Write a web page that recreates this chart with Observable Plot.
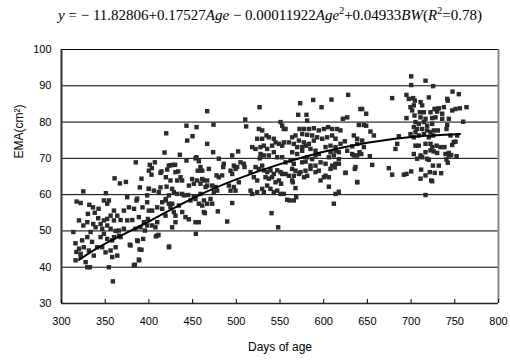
<!DOCTYPE html>
<html><head><meta charset="utf-8">
<script src="https://cdn.jsdelivr.net/npm/d3@7"></script>
<script src="https://cdn.jsdelivr.net/npm/@observablehq/plot@0.6"></script>
<style>
body{margin:0;background:#fff;width:510px;height:363px;overflow:hidden}
#title{height:30px;line-height:30px;font-family:"Liberation Serif","Times New Roman",serif;font-size:15px;text-align:center;padding-left:30px;box-sizing:border-box;width:510px;white-space:nowrap;color:#000}
#title sup{font-size:10px;line-height:0;vertical-align:6px}
</style></head><body>
<div id="title"><i>y</i> = − 11.82806+0.17527<i>Age</i> − 0.00011922<i>Age</i><sup>2</sup>+0.04933<i>BW</i>(<i>R</i><sup>2</sup>=0.78)</div>
<div id="chart"></div>
<script>
const xTicks = [300,350,400,450,500,550,600,650,700,750,800];
const yTicks = [30,40,50,60,70,80,90,100];
const gridValues = [40,50,60,70,80,90,100];
const xLabel = "Days of age";
const yLabel = "EMA(cm²)";

// [age, EMA], by age band
const band300 = [[385,68.9],[360.7,64.5],[366.8,63.1],[373.7,63.5],[324.9,60.9],[350.8,60.4],[375.2,59.3],[317.3,58.1],[321.9,57.7],[331.8,57.2],[336,56.5],[342.4,56.1],[348.5,58.4],[354.2,58.4],[352.3,57.5],[330.2,54.7],[360,55.6],[363.8,54.2],[356.2,54.2],[371.4,55.6],[377.1,56.5],[383,56.1],[348.5,52.9],[352.3,53.3],[360,52.9],[367.6,53],[375.2,52.9],[381,53],[320,52.9],[325,51.5],[329.5,52.4],[336.3,51.9],[339,51],[344.7,51.9],[346.6,50.6],[352.3,51.5],[356.2,50.6],[361.9,50],[365.7,50.1],[371.4,50.6],[313.5,49.7],[333.3,49.7],[348.5,49.2],[344.7,48.3],[352.3,47.8],[360,48.3],[365.7,48.7],[316,46.6],[323.6,47.4],[329.5,48.3],[325.5,45.5],[320,45.1],[321.9,43.7],[331.3,44.6],[346.6,45.5],[350.4,44.1],[356.2,44.6],[361.9,45.5],[363.8,43.2],[379,46],[358,42.8],[316.1,41.9],[321.9,42.8],[327.6,41.4],[329.5,40],[332.4,40],[354.2,40],[382.8,40.5],[358.8,36.1],[317,44.2],[337,43.2],[340.8,45.5],[358,47.4],[367.5,48.3],[335,47],[342,53.5],[338,55]];
const band400 = [[466.7,83],[443,79],[454.5,78.6],[419.8,76.9],[443.8,74.9],[449.9,76.1],[466.7,74],[417.9,71.6],[435.4,71],[401,68.2],[406.8,68.9],[403.4,67.3],[400,66.6],[391.5,64.4],[414.4,66.4],[420.9,66.9],[424.7,68.1],[430,68.2],[419.4,64.8],[424.7,63.9],[430.4,66.2],[432.4,63.9],[436.2,64.8],[443,69.4],[453.3,70],[457.1,69.2],[459,67.6],[455.9,66.6],[461,66.6],[468.6,67.1],[449.5,64.3],[455.2,63.9],[461,64.3],[466.7,63.9],[459,63],[466.7,62.5],[389.6,62],[400,61.6],[405.7,61.1],[413.3,62],[420.2,62.2],[426.6,61.6],[432.4,60.2],[438.1,60.2],[445,59.9],[447.6,58.4],[453.3,58.8],[459,60.2],[462.9,58.4],[466.7,57.5],[464,54.9],[385.8,58.4],[392.7,56.5],[398,57.9],[403.7,55.6],[409.5,56.5],[415.2,57.9],[419.4,58.8],[426.6,57.5],[430.4,54.2],[438.1,55.2],[445.7,53.2],[388.5,53.8],[394.2,52.4],[398.8,53.3],[390.4,51],[395.4,50.1],[403.7,51.5],[409.5,52.4],[393.4,47.8],[408,48.5],[411,48.9],[423.2,45.7],[378.2,46.2],[387.3,47.2],[389.3,44.9],[383.9,40.7],[388.9,41.9],[453.7,49.2],[422.8,68],[427.4,68.2],[413.3,66],[403,65.5],[433.5,66.4],[438,63.9],[445.7,62.5],[451.4,63],[399.9,61.6],[411.4,60.7],[422.8,59.8],[428.5,60.7],[440,59.8],[451.4,59.3],[386.6,58.9],[398,59.8],[419,58.4],[422.8,57.5],[415.2,56.1],[424.7,56.6],[434.3,57],[457.1,57.5],[461,57],[399.9,55.6],[419,54.2],[428.5,55.2],[441.9,53.8],[453.3,52.4],[457.1,52.4],[462.9,55.2],[398,51.5],[407.5,51],[426.6,51],[430.4,52.4],[384.7,50.6],[409.5,48.7],[386.6,47.4],[422.8,45.5],[391.5,44.8],[388.5,42.1],[462.9,63.9],[464.8,62.1],[454.5,70.3]];
const band500 = [[526.6,84.1],[473.9,79.3],[510.2,80.7],[511.3,78.8],[550.6,80],[552.5,79],[554.4,78.1],[525.8,78.1],[529.6,77.7],[534.6,76.3],[537.2,75.8],[523.9,75.4],[529.6,75.4],[542.9,75.4],[544.9,74.4],[518.2,73.1],[522,72.6],[527.7,73.1],[531.5,73.5],[535.3,72.6],[541,73.5],[548.7,74],[552.5,73.5],[554.4,74.4],[527.7,71.2],[531.5,70.8],[537.2,70.8],[542.9,71.7],[546.8,70.3],[552.5,70.3],[526.9,70],[473.5,71.7],[480,69.9],[495.3,70.8],[502.1,71.9],[485.7,68.5],[485,67.6],[497.2,68],[501,67.6],[504.8,68.9],[508.6,68.5],[509.4,67.6],[493.4,66.6],[495.3,65.7],[499.1,67.1],[477.4,65.3],[480,64.8],[483.8,65.3],[516.3,66.2],[522,67.6],[525.8,67.1],[529.6,68],[531.5,66.7],[535.3,66.2],[539.1,66.7],[542.9,65.7],[546.8,66.7],[550.6,66.2],[552.5,65.7],[520.1,64.8],[523.9,63.9],[533.4,64.8],[537.2,64.4],[541,64.8],[544.9,63.4],[548.7,63.9],[551.3,63],[502.9,63.4],[497.2,62.1],[493.4,61.1],[499.1,61.1],[491.5,62.5],[472.4,62.5],[476.2,62.1],[478.1,61.1],[474.3,60.7],[516.3,61.1],[518.2,60.2],[523.9,60.7],[529.6,61.6],[531.5,60.7],[535.3,62.5],[539.1,61.6],[542.9,60.7],[546.8,61.1],[550.6,60.2],[554.4,60.2],[470.5,58.8],[472.4,57.5],[478.9,55.4],[495.3,57.7],[540.3,54.9],[489.6,52.6],[547.9,51]];
const band600 = [[628,87.5],[588,86.1],[608.9,86.2],[573.1,85.2],[597.5,84.1],[642,83.6],[570.8,82],[580.3,82],[581.1,80.4],[626.9,81.3],[621.9,80.9],[640.2,79.2],[556.3,78.1],[572.3,78.1],[577.3,78.1],[583,78.1],[588.7,78.3],[594.4,77.7],[600.2,78.1],[605.1,78.6],[609.7,78.1],[615.4,78.1],[619.2,77.7],[563.9,75.8],[567.7,76.3],[575.4,76.7],[581.1,76.5],[586.8,76.3],[592.5,75.8],[598.3,75.4],[604,75.8],[609.7,76.3],[613.5,75.4],[634.5,76.3],[638.3,75.4],[624.2,74.7],[560.1,74.4],[565.8,74],[571.6,74.9],[577.3,74.4],[583,74],[588.7,74.9],[569.6,73.1],[575.4,73.1],[580,73.5],[584.9,72.6],[602.1,73.1],[607.8,73.5],[613.5,73.1],[619.2,74],[632.6,73.3],[638.3,74],[563.9,71.7],[569.6,71.2],[575.4,72.1],[590.6,72.1],[594.4,71.2],[607.8,71.7],[613.5,72.1],[617.3,71.7],[626.9,72.1],[632.6,71.2],[638.3,70.8],[641,71.7],[581.1,70.3],[586.8,69.8],[590.6,70.8],[605.9,70.3],[611.6,70.8],[617.3,69.8],[556.3,68.9],[562,69.4],[565.8,68.5],[575.4,68.9],[579.2,69.1],[584.9,68],[590.6,68],[596.4,68.9],[602.1,68.5],[609.7,68],[613.5,68.5],[617.3,68.5],[636.4,67.6],[634.5,70.8],[563.9,67.1],[567.7,66.6],[573.5,66.2],[579.2,66.6],[584.9,67.1],[590.6,66.2],[594.4,66.6],[607.8,67.1],[612.7,67.5],[556.3,65.7],[560.1,65.2],[565.8,65.2],[571.6,65.7],[577.5,64.8],[581.1,65.2],[602.1,65.2],[605.9,64.8],[625,66],[635.6,67.1],[563.9,63.9],[564.7,63.4],[596.4,63.9],[600.2,64.8],[638.3,63.4],[567.7,61.8],[605.9,62.2],[558.2,58.6],[560.9,58.4],[565.8,58.4],[568.5,59.3],[617.3,60.8],[613.5,60.2],[611.6,57.5],[624.9,66],[638.3,63.5]];
const band700 = [[700.1,92.6],[700.1,90.2],[716.5,91.4],[725.2,89.9],[678.3,86.6],[694.7,87.5],[697.4,86.4],[702.4,86.6],[704.3,85.9],[710.8,85.5],[712.7,84.6],[720.3,86.8],[699.3,84.1],[703.1,84.6],[710,82.7],[714.6,82.7],[722.2,82.7],[726.8,83.6],[701.2,83.2],[703.9,81.8],[644,83.6],[648.6,82.3],[694.7,81.1],[710.8,81.3],[716.5,80.9],[724.1,81.1],[705,80],[708.8,79.5],[714.6,80],[718.4,79],[724.1,79.5],[645.9,79.2],[648.6,79],[703.1,78.6],[706.9,78.1],[712.7,78.1],[718.4,77.7],[722.2,77.2],[653.5,77.4],[657.4,76.3],[699.3,76.7],[705,77.2],[703.1,75.8],[708.8,76.3],[714.6,76.7],[720.3,75.8],[725.3,76.3],[686,76.1],[644,74.9],[645.9,73.1],[643,71.2],[684.1,74],[682.1,72.6],[705,73.5],[708.8,73.5],[716.5,74],[722.2,74],[724.1,73.1],[703.1,71.2],[710.8,70.8],[712.7,70.3],[716.5,71.7],[722.2,72.2],[652.8,70.6],[655.5,68.2],[706.9,69.9],[718.4,69.9],[720.3,69.6],[674.5,67.3],[678.3,65.5],[691.7,65.5],[694.7,65.7],[700.1,66.4],[711.5,66.9],[716.5,65.3],[721.4,66.2],[723,63.9],[710.8,64.4],[716.5,59.9],[747.4,88.4],[754.6,87.7],[741.3,86.4],[742,85.9],[727.9,83.6],[731.7,83.8],[737.5,84.1],[729.8,82.9],[735.6,82.3],[747,83.2],[750.8,83.6],[755.8,83.8],[763.4,84.1],[727.9,81.3],[735.6,80.9],[743.2,80.9],[759.6,80.1],[741.3,79.2],[740.5,78.1],[726,77.7],[730.6,77.7],[745.1,76.3],[752.7,76.3],[748.9,74.5],[750.8,74.6],[747,73.7],[729.1,73.5],[733.6,73.1],[738.2,73.1],[726,71.9],[729.8,71.5],[739.4,71.2],[743.2,71.5],[745.8,70.9],[752,70.6],[743.2,70.8],[740.5,69.7],[731.7,68],[742,68.8],[734.4,65.9],[724.1,63.7],[725,68],[727,66]];

// fitted curve
const fitAge = [320,350,400,450,500,550,600,650,700,756];
const fitEMA = [42.0,46.5,52.6,59.0,64.2,68.4,71.8,74.3,75.9,76.7];

const points = [...band300, ...band400, ...band500, ...band600, ...band700].map(([age, ema]) => ({age, ema}));
const fit = fitAge.map((age, i) => ({age, ema: fitEMA[i]}));

const chart = Plot.plot({
  width: 510, height: 333,
  marginTop: 19, marginBottom: 60, marginLeft: 61, marginRight: 12,
  style: {fontFamily: "'Liberation Sans', Arial, sans-serif", fontSize: "11px", color: "#000", background: "#fff"},
  x: {domain: [300, 800]},
  y: {domain: [30, 100]},
  marks: [
    Plot.ruleY(gridValues, {stroke: "#000", strokeWidth: 1}),
    Plot.dot(points, {x: "age", y: "ema", symbol: "square", r: 2.5, fill: "#2b2b2b", stroke: "none"}),
    Plot.line(fit, {x: "age", y: "ema", curve: "natural", stroke: "#000", strokeWidth: 2}),
    Plot.ruleY([30], {stroke: "#222", strokeWidth: 1.5}),
    Plot.ruleX([300], {stroke: "#333", strokeWidth: 2}),
    Plot.ruleX([800], {stroke: "#888", strokeWidth: 2}),
    Plot.axisX({ticks: xTicks, tickSize: -4, tickPadding: 18, label: null, tickFormat: d => d}),
    Plot.axisY({ticks: yTicks, tickSize: 0, tickPadding: 10, label: null}),
    Plot.text([xLabel], {text: d => d, frameAnchor: "bottom", dy: 47, fontSize: 12}),
    Plot.text([yLabel], {text: d => d, frameAnchor: "left", dx: -42, dy: -18, rotate: -90, fontSize: 12})
  ]
});
document.getElementById("chart").appendChild(chart);
</script>
</body></html>
